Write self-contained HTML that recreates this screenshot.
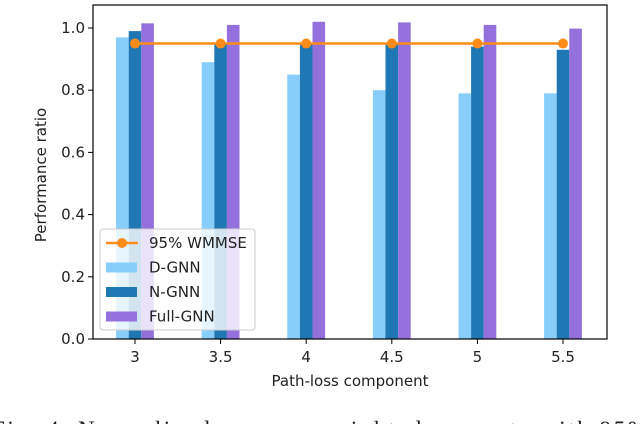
<!DOCTYPE html>
<html><head><meta charset="utf-8"><style>
body{margin:0;width:640px;height:424px;background:#fff;overflow:hidden}
svg{font-family:"DejaVu Sans","Liberation Sans",sans-serif}
</style></head><body>
<svg id="c" width="640" height="424"></svg>
<script>
const categories=["3","3.5","4","4.5","5","5.5"];
const dgnn=[0.97,0.89,0.85,0.80,0.79,0.79];
const ngnn=[0.99,0.95,0.95,0.95,0.94,0.93];
const fullgnn=[1.015,1.01,1.02,1.018,1.01,0.998];
const wmmse=[0.95,0.95,0.95,0.95,0.95,0.95];
const yTicks=[0,0.2,0.4,0.6,0.8,1.0];
const NS="http://www.w3.org/2000/svg";
const svg=document.getElementById('c');
const L=93,R=607,T=5,B=339;
const y=v=>B-v*311;
const x=i=>135+i*85.6;
function mk(t,a,p){const e=document.createElementNS(NS,t);for(const k in a)e.setAttribute(k,a[k]);(p||svg).appendChild(e);return e;}
const bw=12.6;
const series=[[dgnn,"#87cefa",-1,"d-gnn"],[ngnn,"#1f77b4",0,"n-gnn"],[fullgnn,"#9370db",1,"full-gnn"]];
series.forEach(([arr,col,off,nm])=>{arr.forEach((v,i)=>{
 const r=mk('rect',{x:x(i)+off*bw-bw/2,y:y(v),width:bw,height:B-y(v),fill:col});
 
 
});});
const pl=mk('polyline',{points:wmmse.map((v,i)=>x(i)+','+y(v)).join(' '),fill:'none',stroke:'#ff8c1a','stroke-width':2.5});


wmmse.forEach((v,i)=>{const c=mk('circle',{cx:x(i),cy:y(v),r:5,fill:'#ff8c1a'});

});
mk('rect',{x:L,y:T,width:R-L,height:B-T,fill:'none',stroke:'#000','stroke-width':1.2});
yTicks.forEach(v=>{mk('line',{x1:L-5,x2:L,y1:y(v),y2:y(v),stroke:'#000'});
 const t=mk('text',{x:L-8,y:y(v)+5,'text-anchor':'end','font-size':15,fill:'#222'});t.textContent=v.toFixed(1);
 });
categories.forEach((c,i)=>{mk('line',{x1:x(i),x2:x(i),y1:B,y2:B+5,stroke:'#000'});
 const t=mk('text',{x:x(i),y:B+23,'text-anchor':'middle','font-size':15,fill:'#222'});t.textContent=c;
 });
const xt=mk('text',{x:350,y:386,'text-anchor':'middle','font-size':15,fill:'#222'});xt.textContent='Path-loss component';

const yt=mk('text',{x:0,y:0,'text-anchor':'middle','font-size':15,fill:'#222',transform:'translate(46,175) rotate(-90)'});yt.textContent='Performance ratio';

const lg=mk('g',{});

mk('rect',{x:100,y:229,width:155,height:101,rx:3,fill:'rgba(255,255,255,0.8)',stroke:'#ccc'},lg);
mk('line',{x1:106,x2:138,y1:243,y2:243,stroke:'#ff8c1a','stroke-width':2.5},lg);
mk('circle',{cx:122,cy:243,r:5,fill:'#ff8c1a'},lg);
const items=[["95% WMMSE",null],["D-GNN","#87cefa"],["N-GNN","#1f77b4"],["Full-GNN","#9370db"]];
items.forEach(([n,c],i)=>{const yy=243+i*24.5;
 if(c)mk('rect',{x:106,y:yy-5,width:31,height:10,fill:c},lg);
 const t=mk('text',{x:149,y:yy+5,'font-size':15,fill:'#222'},lg);t.textContent=n;
 });
const cap=mk('text',{x:-8,y:437,'font-size':23,fill:'#222','font-family':'Liberation Serif,serif',textLength:655,lengthAdjust:'spacing'});
cap.textContent='Fig. 4.  Normalized average weighted sum rate with 95%';

</script>
</body></html>
